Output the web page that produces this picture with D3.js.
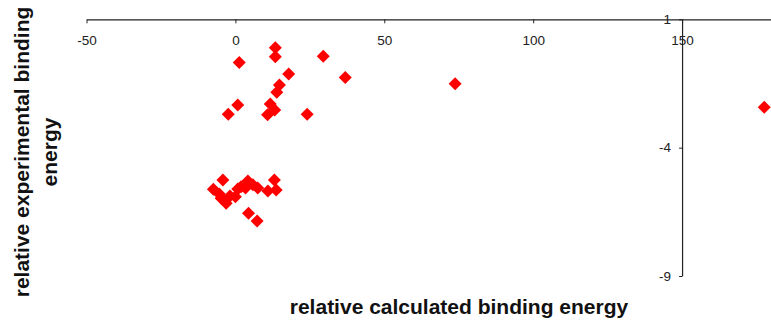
<!DOCTYPE html>
<html>
<head>
<meta charset="utf-8">
<script src="https://cdn.jsdelivr.net/npm/d3@7"></script>
<style>
  html, body { margin: 0; padding: 0; background: #fff; }
  svg { display: block; }
  text { font-family: "Liberation Sans", Arial, sans-serif; }
</style>
</head>
<body>
<svg id="chart" width="771" height="328"></svg>
<script>
// Calculated vs. experimental relative binding energies
const calcEnergy = [
  13.4, 13.4, 1.3, 29.5, 17.9, 14.8, 13.9, 0.8, -2.4, 11.7, 13.2, 10.8, 24.1,
  36.9, 73.8, 177.6,
  -4.2, -7.4, -5.4, -4.8, -3.1, -1.8, 0.8, 0.0, 1.9, 4.2, 3.4, 7.5, 5.9,
  10.9, 13.1, 13.7, 4.4, 7.3
];
const exptEnergy = [
  -0.11, -0.46, -0.68, -0.44, -1.13, -1.56, -1.84, -2.34, -2.70, -2.30, -2.53, -2.72, -2.70,
  -1.27, -1.51, -2.43,
  -5.26, -5.62, -5.81, -5.97, -6.17, -5.88, -5.61, -5.91, -5.52, -5.30, -5.57, -5.57, -5.45,
  -5.69, -5.26, -5.65, -6.56, -6.86
];
const xTicks = [-50, 0, 50, 100, 150];
const yTicks = [1, -4, -9];
const xTitle = "relative calculated binding energy";
const yTitleLines = ["relative experimental binding", "energy"];

const svg = d3.select("#chart");

const x = d3.scaleLinear().domain([-50, 180]).range([86.5, 771.4]);
const y = d3.scaleLinear().domain([1, -9]).range([19.3, 276]);

// Plain hyphen for negative numbers
const fmt = d => String(d);

// Horizontal axis crosses at y = 1, labels below the line
const xAxis = svg.append("g")
  .attr("transform", `translate(0,${y(1)})`)
  .call(d3.axisBottom(x).tickValues(xTicks).tickFormat(fmt)
    .tickSize(4).tickSizeOuter(0).tickPadding(12));

// Vertical axis crosses at x = 150
const yAxis = svg.append("g")
  .attr("transform", `translate(${x(150)},0)`)
  .call(d3.axisLeft(y).tickValues(yTicks).tickFormat(fmt)
    .tickSize(3).tickSizeOuter(0).tickPadding(8));

[xAxis, yAxis].forEach(g => {
  g.selectAll("path.domain").attr("stroke", "#222").attr("stroke-width", 1.2);
  g.selectAll(".tick line").attr("stroke", "#222");
  g.selectAll(".tick text")
    .attr("fill", "#222")
    .style("font-family", "'Liberation Sans', Arial, sans-serif")
    .style("font-size", "13.5px");
});

// Diamond markers
const diamond = "M0,-6.5L6.5,0L0,6.5L-6.5,0Z";
svg.append("g")
  .selectAll("path")
  .data(d3.range(calcEnergy.length))
  .join("path")
  .attr("d", diamond)
  .attr("fill", "#ff0000")
  .attr("transform", i => `translate(${x(calcEnergy[i])},${y(exptEnergy[i])})`);

// Axis titles
svg.append("text")
  .attr("x", 459)
  .attr("y", 314)
  .attr("text-anchor", "middle")
  .style("font-size", "21px")
  .style("font-weight", "bold")
  .attr("fill", "#111")
  .text(xTitle);

const yTitle = svg.append("text")
  .attr("transform", "translate(29,152) rotate(-90)")
  .attr("text-anchor", "middle")
  .style("font-size", "21px")
  .style("font-weight", "bold")
  .attr("fill", "#111");
yTitleLines.forEach((t, i) => {
  yTitle.append("tspan").attr("x", 0).attr("y", i * 28).text(t);
});
</script>
</body>
</html>
